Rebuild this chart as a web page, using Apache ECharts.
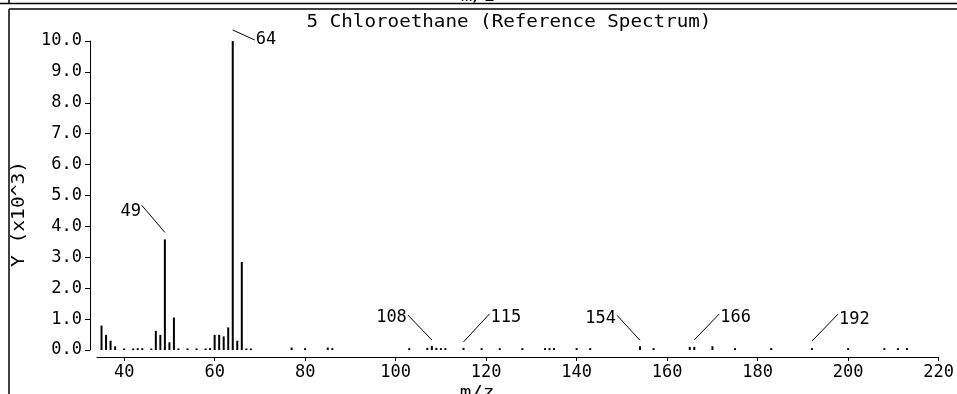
<!DOCTYPE html>
<html>
<head>
<meta charset="utf-8">
<script src="https://cdn.jsdelivr.net/npm/echarts@6/dist/echarts.min.js"></script>
<style>
html, body { margin: 0; padding: 0; background: #fff; }
#main { width: 957px; height: 394px; }
</style>
</head>
<body>
<div id="main"></div>
<script>
// m/z of each line and its intensity (x10^3)
var mz = [35, 36, 37, 38, 40, 42, 43, 44, 46, 47, 48, 49, 50, 51, 52, 54, 56, 58, 59,
  60, 61, 62, 63, 64, 65, 66, 67, 68, 77, 80, 85, 86, 103, 107, 108, 109, 110, 111,
  115, 119, 123, 128, 133, 134, 135, 140, 143, 154, 157, 165, 166, 170, 175, 183,
  192, 200, 208, 211, 213];
var intensity = [0.79, 0.49, 0.3, 0.12, 0.05, 0.05, 0.06, 0.06, 0.05, 0.62, 0.49, 3.58, 0.25, 1.05, 0.05, 0.05, 0.05, 0.05, 0.06,
  0.49, 0.49, 0.44, 0.73, 10.0, 0.3, 2.85, 0.05, 0.05, 0.08, 0.06, 0.08, 0.06, 0.06, 0.07, 0.13, 0.07, 0.06, 0.06,
  0.07, 0.06, 0.06, 0.06, 0.06, 0.06, 0.06, 0.06, 0.06, 0.12, 0.06, 0.1, 0.1, 0.12, 0.06, 0.06,
  0.06, 0.06, 0.06, 0.06, 0.06];
var xTicks = [40, 60, 80, 100, 120, 140, 160, 180, 200, 220];
var labelled = [49, 64, 108, 115, 154, 166, 192];

// leader line look for each labelled peak
var leader = {
  49:  { gap: 7,  dx: -23, dy: -27, ty: 6 },
  64:  { gap: 11, dx: 22,  dy: 10,  ty: 0 },
  108: { gap: 6,  dx: -24, dy: -25, ty: 3 },
  115: { gap: 6,  dx: 26,  dy: -28, ty: 4 },
  154: { gap: 6,  dx: -23, dy: -25, ty: 3 },
  166: { gap: 7,  dx: 25,  dy: -26, ty: 4 },
  192: { gap: 7,  dx: 26,  dy: -27, ty: 5 }
};

var FONT = '"DejaVu Sans Mono", "Liberation Mono", monospace';

var chart = echarts.init(document.getElementById('main'));

var bars = mz.map(function (m, i) { return [m, intensity[i]]; });
var marks = labelled.map(function (m) { return [m, intensity[mz.indexOf(m)]]; });

var option = {
  animation: false,
  grid: { left: 97, right: 17, top: 41, bottom: 44 },
  xAxis: {
    type: 'value',
    min: 34,
    max: 220,
    offset: 7,
    axisLine: { onZero: false, lineStyle: { color: '#000', width: 1 } },
    axisTick: { customValues: xTicks, length: 4, lineStyle: { color: '#000' } },
    axisLabel: { customValues: xTicks, color: '#000', fontFamily: FONT, fontSize: 17, margin: 7 },
    splitLine: { show: false }
  },
  yAxis: {
    type: 'value',
    min: 0,
    max: 10,
    interval: 1,
    offset: 7,
    axisLine: { show: true, lineStyle: { color: '#000', width: 1 } },
    axisTick: { show: true, length: 5, lineStyle: { color: '#000' } },
    axisLabel: {
      color: '#000', fontFamily: FONT, fontSize: 17, margin: 8,
      formatter: function (v) { return v.toFixed(1); }
    },
    splitLine: { show: false }
  },
  graphic: [
    { type: 'line', shape: { x1: 0, y1: 3.5, x2: 957, y2: 3.5 }, style: { stroke: '#000', lineWidth: 1.5 } },
    { type: 'line', shape: { x1: 9, y1: 0, x2: 9, y2: 3.5 }, style: { stroke: '#000', lineWidth: 1.5 } },
    { type: 'line', shape: { x1: 9, y1: 9, x2: 957, y2: 9 }, style: { stroke: '#000', lineWidth: 1.5 } },
    { type: 'line', shape: { x1: 9, y1: 9, x2: 9, y2: 394 }, style: { stroke: '#000', lineWidth: 1.5 } },
    {
      type: 'text', x: 478, y: 5, scaleX: 1.13,
      style: { text: 'm/z', font: '17px ' + FONT, fill: '#000', align: 'center', verticalAlign: 'bottom' }
    },
    {
      type: 'text', x: 509, y: 23, scaleX: 1.13,
      style: { text: '5 Chloroethane (Reference Spectrum)', font: '17px ' + FONT, fill: '#000', align: 'center', verticalAlign: 'middle' }
    },
    {
      type: 'text', x: 20, y: 214, rotation: Math.PI / 2, scaleX: 1.15,
      style: { text: 'Y (x10^3)', font: '17px ' + FONT, fill: '#000', align: 'center', verticalAlign: 'middle' }
    },
    {
      type: 'text', x: 477, y: 385, scaleX: 1.13,
      style: { text: 'm/z', font: '17px ' + FONT, fill: '#000', align: 'center', verticalAlign: 'top' }
    }
  ],
  series: [
    {
      type: 'bar',
      data: bars,
      barWidth: 2,
      itemStyle: { color: '#000' }
    },
    {
      type: 'custom',
      data: marks,
      clip: false,
      renderItem: function (params, api) {
        var m = api.value(0);
        var p = api.coord([m, api.value(1)]);
        var L = leader[m];
        var x0 = p[0], y0 = p[1] - L.gap;
        var x1 = x0 + L.dx, y1 = y0 + L.dy;
        return {
          type: 'group',
          children: [
            { type: 'line', shape: { x1: x0, y1: y0, x2: x1, y2: y1 }, style: { stroke: '#000', lineWidth: 1 } },
            {
              type: 'text', x: x1 + (L.dx < 0 ? -1 : 1), y: y1 + L.ty,
              style: {
                text: String(m), font: '17px ' + FONT, fill: '#000',
                align: L.dx < 0 ? 'right' : 'left', verticalAlign: 'middle'
              }
            }
          ]
        };
      }
    }
  ]
};

chart.setOption(option);
</script>
</body>
</html>
